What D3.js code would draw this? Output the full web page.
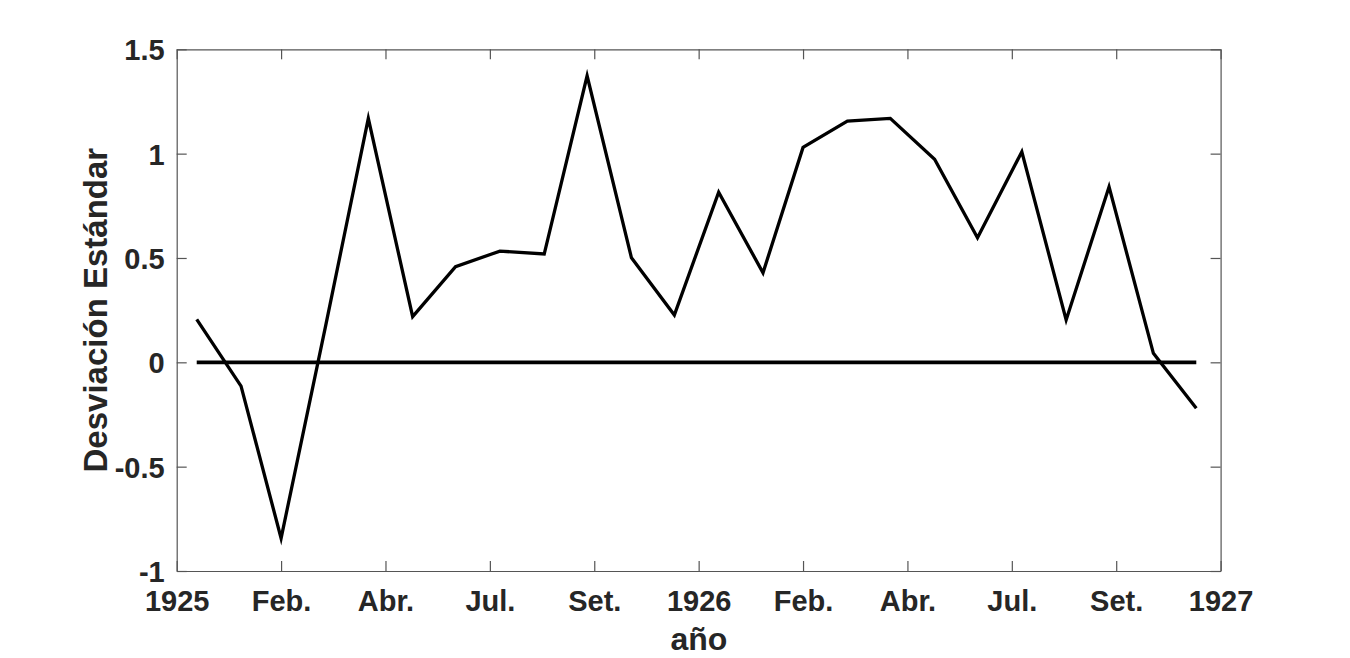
<!DOCTYPE html>
<html>
<head>
<meta charset="utf-8">
<script src="https://cdn.jsdelivr.net/npm/d3@7"></script>
<style>
  html, body { margin: 0; padding: 0; background: #fff; }
  svg { display: block; }
  text { font-family: "Liberation Sans", Arial, Helvetica, sans-serif; font-weight: bold; fill: #262626; }
</style>
</head>
<body>
<script>
// ---- data ----
const dates = ["1925-01-15","1925-02-15","1925-03-15","1925-04-15","1925-05-15","1925-06-15",
               "1925-07-15","1925-08-15","1925-09-15","1925-10-15","1925-11-15","1925-12-15",
               "1926-01-15","1926-02-15","1926-03-15","1926-04-15","1926-05-15","1926-06-15",
               "1926-07-15","1926-08-15","1926-09-15","1926-10-15","1926-11-15","1926-12-15"];
const values = [0.206, -0.114, -0.843, 0.17, 1.169, 0.219,
                0.458, 0.533, 0.519, 1.373, 0.501, 0.227,
                0.815, 0.429, 1.030, 1.156, 1.169, 0.973,
                0.597, 1.009, 0.203, 0.841, 0.043, -0.220];
const referenceValue = 0;
const xTickLabels = ["1925","Feb.","Abr.","Jul.","Set.","1926","Feb.","Abr.","Jul.","Set.","1927"];
const yTicks = [-1, -0.5, 0, 0.5, 1, 1.5];
const yTickLabels = ["-1","-0.5","0","0.5","1","1.5"];
const xLabel = "año";
const yLabel = "Desviación Estándar";

// ---- layout ----
const W = 1350, H = 658;
const pLeft = 176.7, pRight = 1220.6, pTop = 49.3, pBottom = 571;

const svg = d3.select("body").append("svg").attr("width", W).attr("height", H);
svg.append("rect").attr("width", W).attr("height", H).attr("fill", "#fff");

const parse = d3.utcParse("%Y-%m-%d");
const data = dates.map((d, i) => ({ date: parse(d), value: values[i] }));

const x = d3.scaleUtc()
  .domain([new Date(Date.UTC(1925, 0, 1)), new Date(Date.UTC(1927, 0, 1))])
  .range([pLeft, pRight]);
const y = d3.scaleLinear().domain([-1, 1.5]).range([pBottom, pTop]);

const dayMs = 86400000;
const xTickVals = xTickLabels.map((_, i) => new Date(Date.UTC(1925, 0, 1) + i * 73 * dayMs));

const axisColor = "#555555";

// bottom axis
const gx = svg.append("g").attr("transform", `translate(0,${pBottom})`)
  .call(d3.axisBottom(x).tickValues(xTickVals).tickSizeInner(-10).tickSizeOuter(0)
    .tickPadding(19).tickFormat((d, i) => xTickLabels[i]));
// top axis
const gxt = svg.append("g").attr("transform", `translate(0,${pTop})`)
  .call(d3.axisTop(x).tickValues(xTickVals).tickSizeInner(-10).tickSizeOuter(0).tickFormat(""));
// left axis
const gy = svg.append("g").attr("transform", `translate(${pLeft},0)`)
  .call(d3.axisLeft(y).tickValues(yTicks).tickSizeInner(-10).tickSizeOuter(0)
    .tickPadding(12).tickFormat((d, i) => yTickLabels[i]));
// right axis
const gyr = svg.append("g").attr("transform", `translate(${pRight},0)`)
  .call(d3.axisRight(y).tickValues(yTicks).tickSizeInner(-10).tickSizeOuter(0).tickFormat(""));

[gx, gxt, gy, gyr].forEach(g => {
  g.selectAll("path.domain").attr("stroke", axisColor).attr("stroke-width", 1.2);
  g.selectAll(".tick line").attr("stroke", axisColor).attr("stroke-width", 1.2);
});
gx.selectAll(".tick text").style("font-size", "29px").attr("dy", "0.71em").attr("fill", "#262626");
gy.selectAll(".tick text").style("font-size", "29px").attr("dy", "0.36em").attr("fill", "#262626");
[gx, gy].forEach(g => g.attr("font-family", null).attr("font-size", null));

// reference line at 0
const line = d3.line().x(d => x(d.date)).y(d => y(d.value));
svg.append("path")
  .datum([{ date: data[0].date, value: referenceValue }, { date: data[data.length - 1].date, value: referenceValue }])
  .attr("d", line).attr("fill", "none").attr("stroke", "#000").attr("stroke-width", 3.8);

// data line
svg.append("path").datum(data).attr("d", line)
  .attr("fill", "none").attr("stroke", "#000").attr("stroke-width", 3.3)
  .attr("stroke-linejoin", "miter").attr("stroke-miterlimit", 10);

// axis labels
svg.append("text").attr("x", (pLeft + pRight) / 2 + 0.3).attr("y", 650)
  .attr("text-anchor", "middle").style("font-size", "32px").text(xLabel);
svg.append("text")
  .attr("transform", `translate(107,${(pTop + pBottom) / 2}) rotate(-90)`)
  .attr("text-anchor", "middle").style("font-size", "33px").text(yLabel);
</script>
</body>
</html>
